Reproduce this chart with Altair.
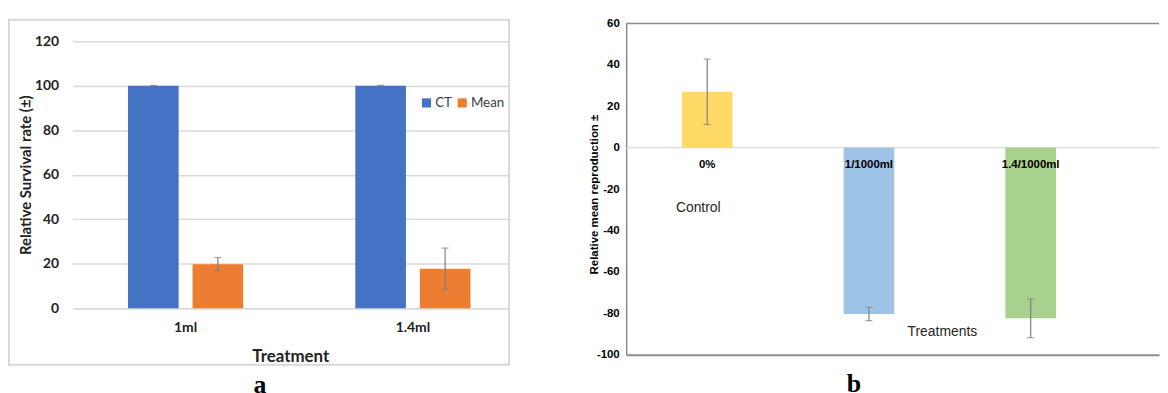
import altair as alt
import pandas as pd

# ---------------- Panel a data ----------------
treat_a = ["1ml", "1.4ml"]
series_a = ["CT", "Mean"]
ct_vals = [100.0, 100.0]
ct_err = [0.15, 0.15]
mean_vals = [19.8, 17.7]
mean_err = [3.0, 9.3]
y_ticks_a = [0, 20, 40, 60, 80, 100, 120]
colors_a = ["#4472C4", "#ED7D31"]

# ---------------- Panel b data ----------------
treat_b = ["0%", "1/1000ml", "1.4/1000ml"]
vals_b = [27.0, -80.3, -82.4]
err_b = [15.8, 3.2, 9.3]
colors_b = ["#FFD966", "#9DC3E6", "#A9D18E"]
y_ticks_b = [-100, -80, -60, -40, -20, 0, 20, 40, 60]
note_control = ("Control", "0%", -29.0)
note_treat = ("Treatments", "1/1000ml", -89.0)

GRAY_ERR = "#7f7f7f"
HYPHEN_LABEL = "datum.value < 0 ? '-' + abs(datum.value) : '' + datum.value"

df_a = pd.DataFrame({
    "Treatment": treat_a + treat_a,
    "Series": [series_a[0]] * 2 + [series_a[1]] * 2,
    "Value": ct_vals + mean_vals,
    "Err": ct_err + mean_err,
})
df_a["Lo"] = df_a["Value"] - df_a["Err"]
df_a["Hi"] = df_a["Value"] + df_a["Err"]

df_b = pd.DataFrame({"Treatment": treat_b, "Value": vals_b, "Err": err_b})
df_b["Lo"] = df_b["Value"] - df_b["Err"]
df_b["Hi"] = df_b["Value"] + df_b["Err"]

# ---------------- Panel a chart ----------------
W_A, H_A = 439, 287
Y_MAX_A = 120 * H_A / 269.0
FONT_A = "Lato"
TXT_A = "#222222"

x_axis_a = alt.Axis(title="Treatment", labelFont=FONT_A, labelFontWeight="bold", labelFontSize=14,
                    labelColor=TXT_A, labelPadding=13, labelAngle=0, ticks=False,
                    domainColor="#d9d9d9", domainWidth=1.5,
                    titleFont=FONT_A, titleFontWeight="bold", titleFontSize=17, titleColor=TXT_A,
                    titlePadding=14)
y_axis_a = alt.Axis(values=y_ticks_a, title="Relative Survival rate (\u00b1)", labelFont=FONT_A,
                    labelFontWeight="bold", labelFontSize=14, labelColor=TXT_A, labelPadding=14,
                    ticks=False, domain=False, grid=True, gridColor="#d9d9d9", gridWidth=1.5,
                    titleFont=FONT_A, titleFontWeight="bold", titleFontSize=15, titleColor=TXT_A,
                    titleX=-47, titleY=(H_A + (H_A - 269)) / 2.0, titleBaseline="middle")
x_a = alt.X("Treatment:N", sort=treat_a, axis=x_axis_a,
            scale=alt.Scale(paddingInner=0.4934, paddingOuter=0.205, align=0.596))
xo_a = alt.XOffset("Series:N", sort=series_a, scale=alt.Scale(paddingInner=0.2154, paddingOuter=0))
y_scale_a = alt.Scale(domain=[0, Y_MAX_A], nice=False)

base_a = alt.Chart(df_a)
frame_a = alt.Chart(pd.DataFrame({"k": [0]})).mark_rect(
    fillOpacity=0, stroke="#d9d9d9", strokeWidth=2
).encode(x=alt.value(-64), x2=alt.value(440), y=alt.value(-3.7), y2=alt.value(H_A + 57))

bars_a = base_a.mark_bar().encode(
    x=x_a, xOffset=xo_a,
    y=alt.Y("Value:Q", scale=y_scale_a, axis=y_axis_a),
    color=alt.Color("Series:N", sort=series_a,
                    scale=alt.Scale(domain=series_a, range=colors_a),
                    legend=alt.Legend(orient="none", legendX=350, legendY=73, direction="horizontal",
                                      title=None, symbolType="square", symbolSize=85,
                                      symbolStrokeWidth=0, labelFont=FONT_A, labelFontSize=13.5,
                                      labelColor="#404040", columnPadding=3, labelOffset=2, padding=0)),
)
err_a = base_a.mark_rule(color=GRAY_ERR, strokeWidth=1.2).encode(
    x=x_a, xOffset=xo_a,
    y=alt.Y("Lo:Q", scale=y_scale_a, axis=y_axis_a), y2="Hi:Q")
caplo_a = base_a.mark_tick(orient="horizontal", size=7, thickness=1.2, color=GRAY_ERR).encode(
    x=x_a, xOffset=xo_a, y=alt.Y("Lo:Q", scale=y_scale_a, axis=y_axis_a))
caphi_a = base_a.mark_tick(orient="horizontal", size=7, thickness=1.2, color=GRAY_ERR).encode(
    x=x_a, xOffset=xo_a, y=alt.Y("Hi:Q", scale=y_scale_a, axis=y_axis_a))

chart_a = alt.layer(frame_a, bars_a, err_a, caplo_a, caphi_a).properties(
    width=W_A, height=H_A,
    title=alt.TitleParams("a", orient="bottom", baseline="alphabetic", font="Liberation Serif",
                          fontSize=26, fontWeight="bold", color="#000000", frame="group",
                          anchor="middle", dx=-30.5, offset=27),
)

# ---------------- Panel b chart ----------------
W_B, H_B = 537, 334
FONT_B = "Liberation Sans"
AX_B = "#8c8c8c"

x_axis_b = alt.Axis(labels=False, ticks=False, title=None, domainColor=AX_B, domainWidth=2)
y_axis_b = alt.Axis(values=y_ticks_b, title="Relative mean reproduction \u00b1", labelFont=FONT_B,
                    labelFontWeight="bold", labelFontSize=11.5, labelColor="#000000", labelPadding=7,
                    labelExpr=HYPHEN_LABEL,
                    ticks=False, grid=False, domainColor=AX_B, domainWidth=1.5,
                    titleFont=FONT_B, titleFontWeight="bold", titleFontSize=11.5, titleColor="#000000",
                    titleX=-32, titleY=172, titleBaseline="middle")
x_b = alt.X("Treatment:N", sort=treat_b, axis=x_axis_b,
            scale=alt.Scale(paddingInner=0.687, paddingOuter=0.4907, align=0.351))
y_scale_b = alt.Scale(domain=[-100, 60], nice=False)

base_b = alt.Chart(df_b)
zero_b = alt.Chart(pd.DataFrame({"k": [0]})).mark_rule(color="#d9d9d9", strokeWidth=1.2).encode(
    y=alt.datum(0, scale=y_scale_b, axis=y_axis_b))
top_b = alt.Chart(pd.DataFrame({"k": [0]})).mark_rule(color=AX_B, strokeWidth=1.5).encode(
    y=alt.datum(60))
bars_b = base_b.mark_bar().encode(
    x=x_b,
    y=alt.Y("Value:Q", scale=y_scale_b, axis=y_axis_b),
    color=alt.Color("Treatment:N", scale=alt.Scale(domain=treat_b, range=colors_b), legend=None),
)
err_b_l = base_b.mark_rule(color=GRAY_ERR, strokeWidth=1.2).encode(
    x=x_b, y=alt.Y("Lo:Q", scale=y_scale_b, axis=y_axis_b), y2="Hi:Q")
caplo_b = base_b.mark_tick(orient="horizontal", size=7, thickness=1.2, color=GRAY_ERR).encode(
    x=x_b, y=alt.Y("Lo:Q", scale=y_scale_b, axis=y_axis_b))
caphi_b = base_b.mark_tick(orient="horizontal", size=7, thickness=1.2, color=GRAY_ERR).encode(
    x=x_b, y=alt.Y("Hi:Q", scale=y_scale_b, axis=y_axis_b))
labels_b = base_b.mark_text(font=FONT_B, fontWeight="bold", fontSize=11.5, color="#000000",
                            dy=17).encode(x=x_b, y=alt.datum(0), text="Treatment:N")

notes_df = pd.DataFrame({"Text": [note_control[0], note_treat[0]],
                         "Treatment": [note_control[1], note_treat[1]],
                         "Y": [note_control[2], note_treat[2]]})
note_c = alt.Chart(notes_df.iloc[[0]]).mark_text(font=FONT_B, fontSize=14, color="#262626", dx=-9).encode(
    x=x_b, y=alt.Y("Y:Q", scale=y_scale_b, axis=y_axis_b), text="Text:N")
note_t = alt.Chart(notes_df.iloc[[1]]).mark_text(font=FONT_B, fontSize=14, color="#262626", dx=74).encode(
    x=x_b, y=alt.Y("Y:Q", scale=y_scale_b, axis=y_axis_b), text="Text:N")

chart_b = alt.layer(zero_b, top_b, bars_b, err_b_l, caplo_b, caphi_b, labels_b, note_c, note_t).properties(
    width=W_B, height=H_B,
    title=alt.TitleParams("b", orient="bottom", baseline="alphabetic", font="Liberation Serif",
                          fontSize=26, fontWeight="bold", color="#000000", frame="group",
                          anchor="middle", dx=-39, offset=32),
)

chart = alt.hconcat(chart_a, chart_b, spacing=79).resolve_scale(
    color="independent"
).properties(
    padding={"left": 0, "top": 8, "right": 0, "bottom": 0}
).configure_view(stroke=None)

chart.save("out.html", embed_options={"renderer": "svg", "actions": False})
